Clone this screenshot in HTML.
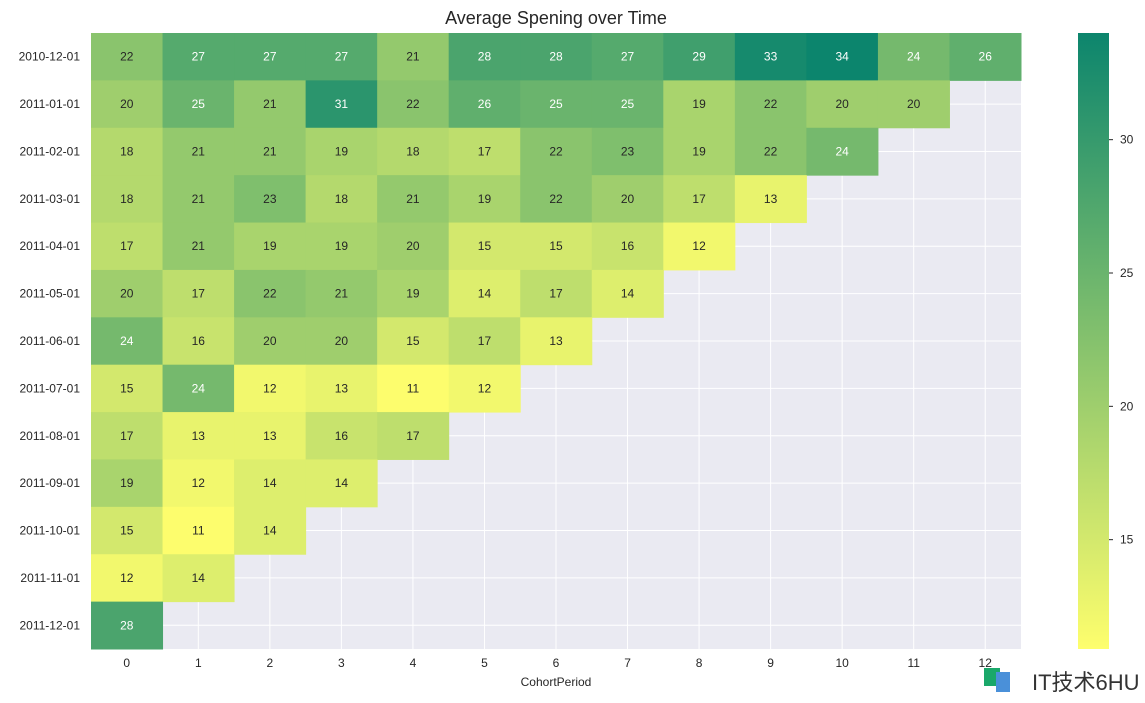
<!DOCTYPE html>
<html><head><meta charset="utf-8">
<style>
body{margin:0;background:#fff;width:1145px;height:698px;overflow:hidden;font-family:"Liberation Sans","Noto Sans CJK SC",sans-serif;}
</style></head>
<body>
<svg id="s" width="1145" height="698" xmlns="http://www.w3.org/2000/svg" font-family="Liberation Sans, Noto Sans CJK SC, sans-serif">
<text x="556" y="24" font-size="18" text-anchor="middle" fill="#262626">Average Spening over Time</text>
<text x="556" y="686" font-size="12" text-anchor="middle" fill="#262626">CohortPeriod</text>
<rect x="984" y="668" width="16" height="18" fill="#1aa86a"/>
<rect x="996" y="672" width="14" height="20" fill="#4a90d9"/>
<text x="1032" y="690" font-size="22" fill="#333">IT技术6HU</text>
</svg>
<script>
var d=[[22,27,27,27,21,28,28,27,29,33,34,24,26],[20,25,21,31,22,26,25,25,19,22,20,20],[18,21,21,19,18,17,22,23,19,22,24],[18,21,23,18,21,19,22,20,17,13],[17,21,19,19,20,15,15,16,12],[20,17,22,21,19,14,17,14],[24,16,20,20,15,17,13],[15,24,12,13,11,12],[17,13,13,16,17],[19,12,14,14],[15,11,14],[12,14],[28]];
var rows=["2010-12-01","2011-01-01","2011-02-01","2011-03-01","2011-04-01","2011-05-01","2011-06-01","2011-07-01","2011-08-01","2011-09-01","2011-10-01","2011-11-01","2011-12-01"];
var x0=91,y0=33,cw=(1021-91)/13,rh=(649-33)/13,vmin=10.9,vmax=34.0;
function col(v){var t=(v-vmin)/(vmax-vmin);t=Math.max(0,Math.min(1,t));var r=1-t,g=1-0.5*t,b=0.4;
var a=0.95;function m(c){return Math.round((c*a+(1-a)*0.92)*255);}return"rgb("+m(r)+","+m(g)+","+m(b)+")";}
var s='';
s+='<rect x="'+x0+'" y="'+y0+'" width="'+(cw*13)+'" height="'+(rh*13)+'" fill="#eaeaf2"/>';
for(var i=0;i<13;i++){var gx=x0+cw*(i+0.5),gy=y0+rh*(i+0.5);
s+='<line x1="'+gx+'" y1="'+y0+'" x2="'+gx+'" y2="'+(y0+rh*13)+'" stroke="#fff" stroke-width="1"/>';
s+='<line x1="'+x0+'" y1="'+gy+'" x2="'+(x0+cw*13)+'" y2="'+gy+'" stroke="#fff" stroke-width="1"/>';
s+='<text x="'+gx+'" y="'+(y0+rh*13+18)+'" font-size="12" text-anchor="middle" fill="#262626">'+i+'</text>';
s+='<text x="'+(x0-11)+'" y="'+(gy+4)+'" font-size="12" text-anchor="end" fill="#262626">'+rows[i]+'</text>';}
for(var r=0;r<13;r++)for(var c=0;c<d[r].length;c++){var v=d[r][c],x=x0+cw*c,y=y0+rh*r;
s+='<rect x="'+x+'" y="'+y+'" width="'+(cw+0.5)+'" height="'+(rh+0.5)+'" fill="'+col(v)+'"/>';
s+='<text x="'+(x+cw/2)+'" y="'+(y+rh/2+4)+'" font-size="12" text-anchor="middle" fill="'+(v>=24?'#fff':'#262626')+'">'+v+'</text>';}
var cx=1078,cwid=31,ct=33,cb=649;
s+='<defs><linearGradient id="g" x1="0" y1="1" x2="0" y2="0"><stop offset="0" stop-color="'+col(vmin)+'"/><stop offset="1" stop-color="'+col(vmax)+'"/></linearGradient></defs>';
s+='<rect x="'+cx+'" y="'+ct+'" width="'+cwid+'" height="'+(cb-ct)+'" fill="url(#g)"/>';
[15,20,25,30].forEach(function(t){var y=cb-(t-vmin)/(vmax-vmin)*(cb-ct);
s+='<line x1="'+(cx+cwid)+'" x2="'+(cx+cwid+4)+'" y1="'+y+'" y2="'+y+'" stroke="#262626"/>';
s+='<text x="'+(cx+cwid+11)+'" y="'+(y+4)+'" font-size="12" fill="#262626">'+t+'</text>';});
document.getElementById('s').insertAdjacentHTML('afterbegin',s);
</script>
</body></html>
